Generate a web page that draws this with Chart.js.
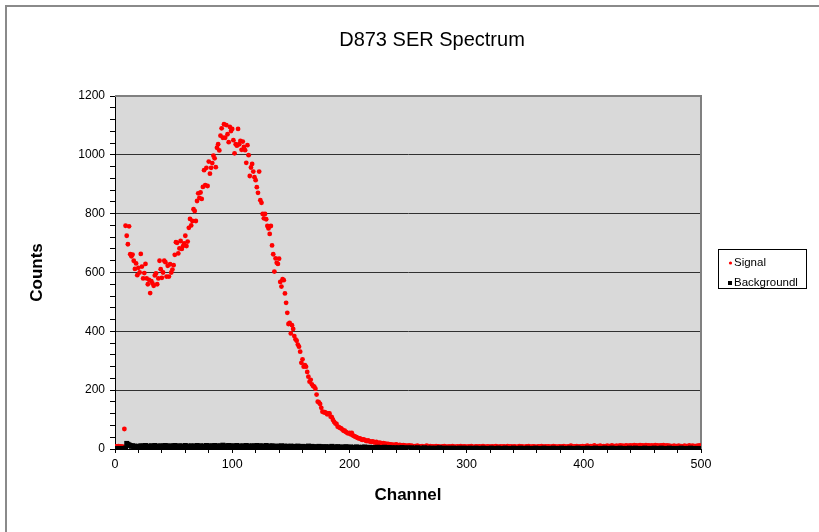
<!DOCTYPE html>
<html>
<head>
<meta charset="utf-8">
<title>D873 SER Spectrum</title>
<script src="https://cdn.jsdelivr.net/npm/chart.js@4.4.1/dist/chart.umd.min.js"></script>
<style>
  html, body { margin: 0; padding: 0; background: #fff; }
</style>
</head>
<body>
<canvas id="spectrum" width="819" height="532"></canvas>
<script>
// counts per channel (index = channel number, 0..500)
var signalCounts = [
  8, 9, 7, 10, 8, 9, 7, 8, 68, 759,
  725, 696, 757, 662, 655, 661, 640, 612, 631, 591,
  616, 600, 663, 620, 580, 598, 629, 580, 560, 575,
  530, 571, 563, 555, 590, 597, 560, 580, 640, 611,
  582, 600, 640, 635, 586, 623, 586, 628, 600, 610,
  625, 660, 703, 701, 665, 682, 707, 680, 690, 699,
  725, 690, 705, 752, 782, 760, 775, 815, 809, 775,
  843, 869, 854, 872, 850, 891, 948, 897, 956, 894,
  977, 936, 956, 972, 997, 988, 958, 1024, 1036, 1015,
  1065, 1090, 1058, 1104, 1058, 1101, 1070, 1043, 1095, 1081,
  1088, 1050, 1005, 1036, 1031, 1088, 1036, 1047, 1017, 1045,
  1027, 1016, 973, 1033, 999, 928, 957, 969, 943, 924,
  914, 890, 871, 943, 846, 837, 799, 784, 799, 781,
  758, 750, 731, 758, 692, 662, 603, 648, 633, 629,
  647, 568, 552, 577, 574, 529, 497, 463, 425, 429,
  393, 421, 408, 384, 373, 368, 355, 348, 331, 293,
  305, 280, 285, 280, 262, 246, 229, 235, 220, 214,
  212, 205, 185, 161, 158, 153, 140, 127, 125, 125,
  123, 118, 121, 121, 110, 108, 99, 92, 87, 85,
  76, 74, 72, 70, 66, 62, 62, 58, 55, 53,
  55, 50, 55, 46, 44, 42, 40, 38, 36, 36,
  33, 31, 33, 31, 28, 27, 29, 26, 25, 24,
  26, 23, 22, 24, 21, 20, 22, 19, 18, 20,
  17, 18, 16, 17, 15, 16, 14, 15, 13, 14,
  16, 13, 12, 14, 12, 11, 13, 12, 10, 11,
  10, 12, 9, 11, 10, 8, 10, 9, 11, 8,
  9, 7, 10, 8, 6, 9, 11, 7, 8, 10, 6, 9, 8, 7, 10, 8, 9, 6, 8, 7,
  9, 10, 7, 8, 6, 9, 7, 8, 10, 7, 8, 6, 9, 7, 8, 10, 6, 8, 9, 7,
  8, 6, 9, 7, 10, 8, 6, 7, 9, 8, 7, 9, 6, 8, 10, 7, 8, 6, 9, 7,
  8, 7, 9, 6, 8, 10, 7, 8, 6, 9, 7, 8, 9, 6, 7, 10, 8, 7, 9, 6,
  8, 9, 7, 6, 8, 10, 7, 9, 8, 6, 7, 9, 8, 10, 6, 8, 7, 9, 8, 7,
  6, 9, 8, 7, 10, 8, 6, 9, 7, 8, 9, 6, 8, 7, 10, 9, 7, 8, 6, 9,
  8, 7, 9, 10, 6, 8, 7, 9, 8, 11, 7, 8, 9, 6, 10, 8, 7, 9, 8, 10,
  7, 9, 8, 11, 8, 7, 10, 9, 8, 12, 7, 9, 10, 8, 11, 9, 7, 10, 8, 9,
  11, 8, 10, 9, 12, 8, 10, 9, 11, 8, 10, 12, 9, 11, 10, 8, 12, 9, 11, 10,
  12, 9, 11, 13, 10, 12, 9, 11, 13, 10, 12, 11, 9, 13, 10, 12, 11, 9, 12, 10,
  11, 13, 10, 12, 9, 11, 12, 10, 13, 11, 9, 12, 10, 11, 8, 10, 9, 11, 8, 10,
  9, 11, 8, 10, 9, 8, 11, 9, 10, 8, 12, 9, 10, 11, 8, 10, 9, 11, 10, 12,
  10
];

var backgroundCounts = [
  1, 0, 2, 1, 0, 1, 2, 0, 1, 3,
  19, 16, 14, 12, 9, 11, 7, 10, 8, 6,
  9, 5, 11, 7, 10, 6, 12, 8, 5, 10, 7, 11, 6, 9, 12, 7, 10, 5, 8, 11,
  6, 10, 8, 12, 5, 9, 7, 11, 8, 6, 10, 12, 7, 9, 5, 11, 8, 10, 6, 9,
  12, 7, 10, 5, 8, 11, 9, 6, 10, 7, 12, 8, 5, 11, 9, 7, 10, 6, 12, 8,
  9, 11, 6, 10, 8, 12, 7, 5, 11, 9, 10, 6, 13, 8, 7, 11, 9, 12, 6, 10,
  8, 11, 5, 9, 12, 7, 10, 8, 6, 11, 9, 7, 12, 8, 10, 5, 9, 11, 7, 10,
  6, 12, 8, 9, 11, 5, 10, 7, 9, 12, 6, 8, 10, 7, 11, 9, 5, 8, 10, 6,
  9, 7, 11, 8, 5, 10, 6, 9, 8, 7, 10, 5, 8, 9, 6, 7, 10, 5, 8, 6,
  9, 7, 5, 8, 6, 10, 4, 7, 9, 5, 8, 6, 7, 4, 9, 6, 8, 5, 7, 6,
  8, 4, 6, 7, 5, 9, 6, 4, 7, 5, 8, 6, 3, 7, 5, 6, 4, 8, 5, 6,
  4, 7, 5, 3, 6, 5, 7, 4, 6, 3, 5, 6, 4, 7, 3, 5, 4, 6, 3, 5,
  4, 2, 5, 3, 6, 4, 2, 5, 3, 4, 6, 2, 4, 3, 5, 2, 4, 3, 1, 4,
  3, 2, 4, 1, 3, 5, 2, 3, 1, 4, 2, 3, 1, 4, 2, 0, 3, 2, 4, 1,
  2, 3, 1, 2, 4, 0, 2, 3, 1, 2, 3, 1, 0, 2, 3, 1, 2, 4, 1, 2,
  0, 3, 1, 2, 1, 3, 0, 2, 1, 3, 2, 0, 1, 2, 3, 1, 2, 0, 3, 1,
  2, 1, 0, 3, 1, 2, 0, 1, 3, 2, 1, 0, 2, 1, 3, 0, 2, 1, 2, 0,
  1, 3, 2, 0, 1, 2, 1, 3, 0, 2, 1, 0, 2, 3, 1, 2, 0, 1, 2, 1,
  3, 0, 1, 2, 1, 0, 3, 2, 1, 0, 2, 1, 3, 0, 1, 2, 0, 2, 1, 3,
  0, 1, 2, 1, 0, 2, 3, 1, 0, 2, 1, 2, 0, 1, 3, 0, 2, 1, 0, 2,
  1, 3, 0, 2, 1, 0, 2, 1, 3, 0, 1, 2, 0, 1, 2, 3, 0, 1, 2, 1,
  0, 2, 1, 3, 0, 1, 2, 0, 1, 2, 3, 1, 0, 2, 1, 0, 2, 1, 3, 0,
  1, 2, 0, 1, 3, 2, 0, 1, 2, 0, 1, 3, 0, 2, 1, 0, 2, 1, 0, 3,
  1, 0, 2, 1, 3, 0, 1, 2, 0, 1, 2, 0, 3, 1, 0, 2, 1, 0, 2, 1,
  3, 0, 1, 2, 0, 1, 3, 2, 0, 1, 2, 0, 1, 3, 0, 2, 1, 0, 2, 1,
  0, 2, 1, 3, 0, 1, 2, 0, 1, 2, 0, 3, 1, 0, 2, 1, 0, 2, 1, 0,
  1
];

var seriesNames = ['Signal', 'Backgroundl'];
var countTicks = [0, 200, 400, 600, 800, 1000, 1200];
var channelTicks = [0, 100, 200, 300, 400, 500];

function toPoints(arr) {
  return arr.map(function (v, ch) { return { x: ch, y: v }; });
}

Chart.defaults.font.family = "'Liberation Sans', Arial, sans-serif";
Chart.defaults.color = '#000';

// white page, outer frame, grey plot area
var plotFrame = {
  id: 'plotFrame',
  beforeDraw: function (chart) {
    var c = chart.ctx, a = chart.chartArea;
    c.save();
    c.fillStyle = '#fff';
    c.fillRect(0, 0, chart.width, chart.height);
    c.strokeStyle = '#8a8a8a';
    c.lineWidth = 2;
    c.strokeRect(6, 6, chart.width + 20, chart.height + 20);
    c.fillStyle = '#d9d9d9';
    c.fillRect(a.left, a.top, a.right - a.left, a.bottom - a.top);
    c.restore();
  },
  beforeDatasetsDraw: function (chart) {
    var c = chart.ctx, a = chart.chartArea;
    c.save();
    c.strokeStyle = '#808080';
    c.lineWidth = 2;
    c.beginPath();
    c.moveTo(a.left, a.top);
    c.lineTo(a.right, a.top);
    c.lineTo(a.right, a.bottom);
    c.stroke();
    c.restore();
  }
};

// boxed legend like the Excel one
var boxLegend = {
  id: 'boxLegend',
  afterDraw: function (chart) {
    var c = chart.ctx;
    var x = 718.5, y = 249.5, w = 88, h = 39;
    c.save();
    c.fillStyle = '#fff';
    c.fillRect(x, y, w, h);
    c.strokeStyle = '#000';
    c.lineWidth = 1;
    c.strokeRect(x, y, w, h);
    c.font = "11.5px 'Liberation Sans', Arial, sans-serif";
    c.textBaseline = 'middle';
    chart.data.datasets.forEach(function (ds, i) {
      var yy = 263 + i * 20;
      c.fillStyle = ds.pointBackgroundColor;
      if (ds.pointStyle === 'rect') {
        c.fillRect(728, yy - 2, 4, 4);
      } else {
        c.beginPath();
        c.arc(730.5, yy, 1.6, 0, Math.PI * 2);
        c.fill();
      }
      c.fillStyle = '#000';
      c.fillText(ds.label, 734, yy);
    });
    c.restore();
  }
};

var ctx = document.getElementById('spectrum');
var spectrumChart = new Chart(ctx, {
  type: 'scatter',
  data: {
    datasets: [{
      label: seriesNames[0],
      data: toPoints(signalCounts),
      pointStyle: 'circle',
      pointRadius: 2.4,
      pointHoverRadius: 2.4,
      pointBorderWidth: 0,
      pointBackgroundColor: '#ff0000',
      order: 1
    }, {
      label: seriesNames[1],
      data: toPoints(backgroundCounts),
      pointStyle: 'rect',
      pointRadius: 3.5,
      pointHoverRadius: 3.5,
      pointBorderWidth: 0,
      pointBackgroundColor: '#000000',
      order: 0
    }]
  },
  options: {
    responsive: false,
    animation: false,
    events: [],
    layout: { padding: { left: 45, right: 0, top: 0, bottom: 26.4 } },
    plugins: {
      legend: { display: false },
      tooltip: { enabled: false },
      title: {
        display: true,
        text: 'D873 SER Spectrum',
        color: '#000',
        font: { size: 20, weight: 'normal' },
        padding: { top: 28, bottom: 44 }
      }
    },
    scales: {
      x: {
        type: 'linear',
        min: 0,
        max: 500,
        afterFit: function (s) { s.height = 56.6; },
        border: { color: '#000', width: 1 },
        grid: {
          drawOnChartArea: false,
          tickLength: 4,
          tickColor: '#000'
        },
        ticks: {
          stepSize: 20,
          maxTicksLimit: 100,
          autoSkip: false,
          maxRotation: 0,
          padding: 4,
          font: { size: 12.5 },
          callback: function (v) { return channelTicks.indexOf(v) >= 0 ? String(v) : ''; }
        },
        title: {
          display: true,
          text: 'Channel',
          font: { size: 17, weight: 'bold' },
          padding: 0
        }
      },
      y: {
        type: 'linear',
        min: 0,
        max: 1200,
        afterFit: function (s) { s.width = 70; },
        border: { color: '#000', width: 1 },
        grid: {
          color: function (c) {
            var v = c.tick ? c.tick.value : 0;
            return (v > 0 && v < 1200 && v % 200 === 0) ? '#303030' : 'rgba(0,0,0,0)';
          },
          tickColor: '#000',
          tickLength: 5
        },
        ticks: {
          stepSize: 40,
          maxTicksLimit: 100,
          autoSkip: false,
          padding: 5,
          font: { size: 12 },
          callback: function (v) { return countTicks.indexOf(v) >= 0 ? String(v) : ''; }
        },
        title: {
          display: true,
          text: 'Counts',
          font: { size: 17, weight: 'bold' },
          padding: { top: -18.2, bottom: 0 }
        }
      },
      yRight: {
        type: 'linear',
        position: 'right',
        display: true,
        afterFit: function (s) { s.width = 118; },
        grid: { display: false, drawTicks: false },
        border: { display: false },
        ticks: { display: false }
      }
    }
  },
  plugins: [plotFrame, boxLegend]
});
</script>
</body>
</html>
